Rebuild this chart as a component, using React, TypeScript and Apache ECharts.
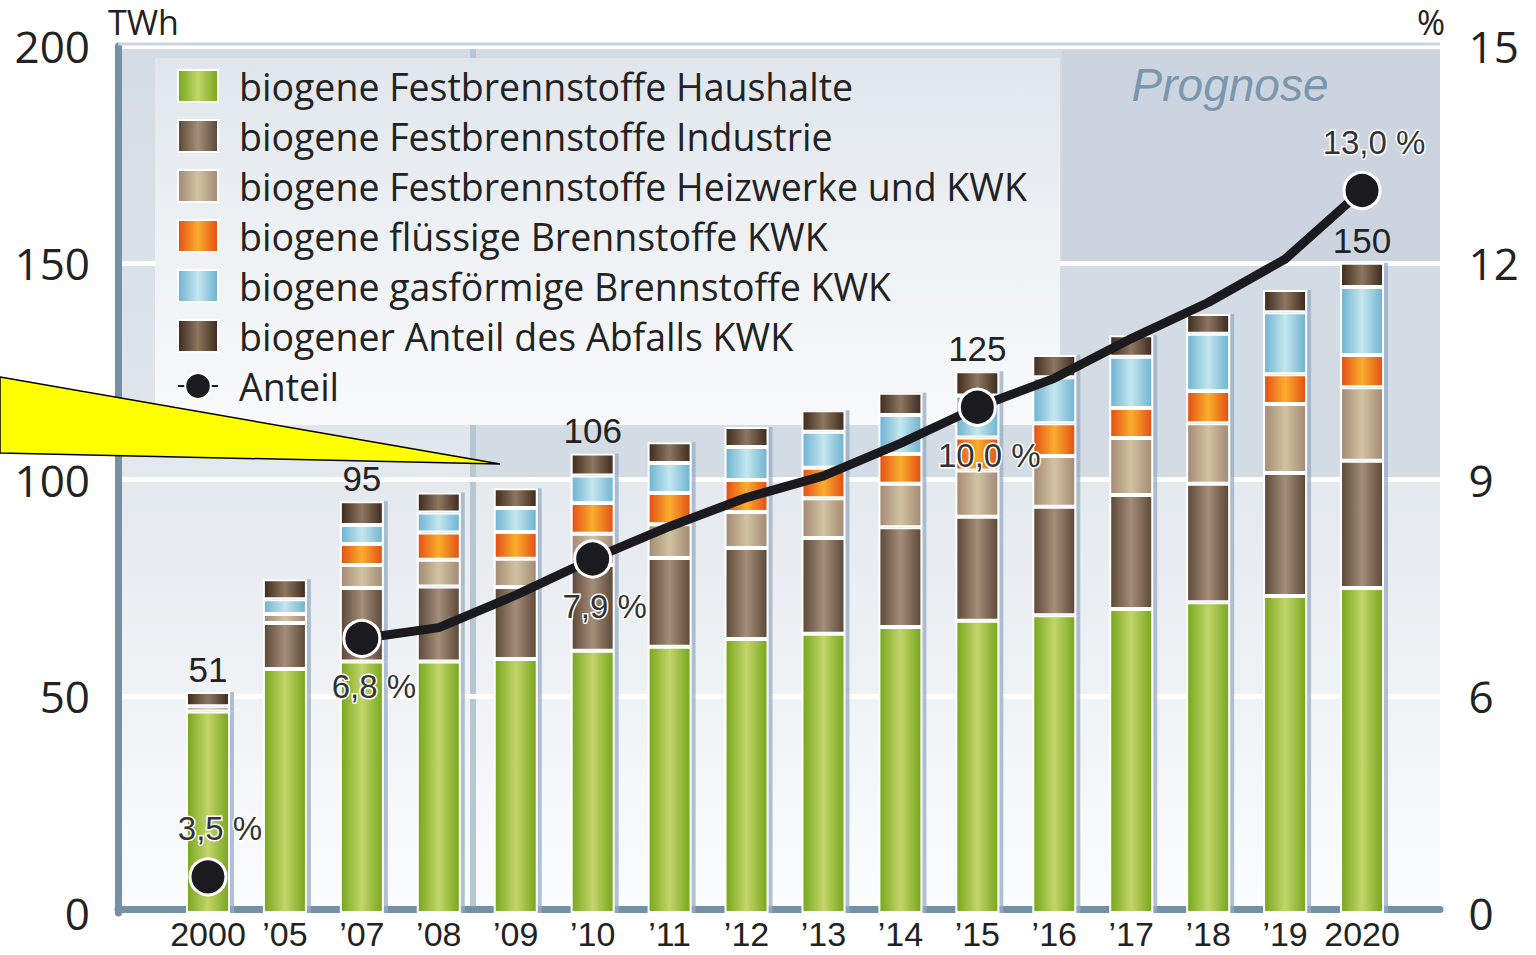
import React, { useEffect, useRef } from 'react';
import * as echarts from 'echarts';

// ---------- data ----------
const years = ['2000', '\u201905', '\u201907', '\u201908', '\u201909', '\u201910', '\u201911', '\u201912', '\u201913', '\u201914', '\u201915', '\u201916', '\u201917', '\u201918', '\u201919', '2020'];

const haushalte = [46.5, 56.3, 58.0, 58.0, 58.6, 60.5, 61.4, 63.2, 64.4, 66.0, 67.4, 68.7, 70.1, 71.7, 73.1, 75.0];
const industrie = [0, 10.6, 17.0, 17.3, 16.6, 19.8, 20.5, 21.0, 22.1, 23.0, 24.0, 25.0, 26.3, 27.3, 28.4, 29.3];
const heizwerke = [1.2, 2.1, 5.3, 6.2, 6.5, 7.2, 7.8, 8.3, 9.2, 10.0, 10.7, 11.7, 13.2, 14.0, 15.9, 17.0];
const fluessig = [0, 0, 4.8, 6.3, 6.2, 7.1, 7.2, 7.4, 7.0, 6.9, 7.6, 7.6, 6.9, 7.4, 6.9, 7.4];
const gasfoermig = [0, 3.4, 4.4, 4.6, 5.5, 6.3, 6.9, 7.6, 8.3, 9.0, 9.7, 10.6, 11.8, 13.2, 14.3, 15.7];
const abfall = [3.3, 4.6, 5.5, 4.6, 4.6, 5.1, 4.8, 4.6, 5.0, 5.1, 5.6, 5.1, 5.0, 4.6, 5.1, 5.6];

const totals = [51, null, 95, null, null, 106, null, null, null, null, 125, null, null, null, null, 150];

const anteil = [3.5, null, 6.8, 6.95, 7.4, 7.9, 8.35, 8.75, 9.05, 9.5, 10.0, 10.4, 10.95, 11.45, 12.05, 13.0];
const anteilMarked = [true, false, true, false, false, true, false, false, false, false, true, false, false, false, false, true];

const leftTicks = { min: 0, max: 200, interval: 50 };
const rightTicks = { min: 3, max: 15, interval: 3 }; // bottom of the broken axis is labelled "0"

const seriesNames = [
  'biogene Festbrennstoffe Haushalte',
  'biogene Festbrennstoffe Industrie',
  'biogene Festbrennstoffe Heizwerke und KWK',
  'biogene flüssige Brennstoffe KWK',
  'biogene gasförmige Brennstoffe KWK',
  'biogener Anteil des Abfalls KWK',
];
const lineName = 'Anteil';

// ---------- styles ----------
const NARROW = "'Liberation Sans', Arial, sans-serif";
const SANS = "'Open Sans', 'Noto Sans', 'DejaVu Sans', sans-serif";

const hGrad = (edge: string, mid: string) => ({
  type: 'linear', x: 0, y: 0, x2: 1, y2: 0,
  colorStops: [
    { offset: 0, color: edge },
    { offset: 0.5, color: mid },
    { offset: 1, color: edge },
  ],
});
const vGrad = (stops: [number, string][]) => ({
  type: 'linear', x: 0, y: 0, x2: 0, y2: 1,
  colorStops: stops.map(([offset, color]) => ({ offset, color })),
});

const barColors = [
  hGrad('#76a61c', '#c3d56a'),
  hGrad('#5b4737', '#a58e79'),
  hGrad('#a38973', '#d1c3a1'),
  hGrad('#e44d15', '#f9ae2d'),
  hGrad('#6db2d2', '#c4e7ed'),
  hGrad('#3d291c', '#8d7760'),
];

const fmtPct = (v: number) => v.toFixed(1).replace('.', ',') + ' %';

export default function App() {
  const ref = useRef<HTMLDivElement>(null);

  useEffect(() => {
    document.body.style.margin = '0';
    const chart = echarts.init(ref.current!, undefined, { renderer: 'svg' });

    const values = [haushalte, industrie, heizwerke, fluessig, gasfoermig, abfall];
    const bars = values.map((data, i) => ({
      type: 'bar',
      name: seriesNames[i],
      stack: 'total',
      xAxisIndex: 1,
      yAxisIndex: 1,
      barWidth: 44,
      data,
      z: 3,
      itemStyle: {
        color: barColors[i],
        borderColor: '#ffffff',
        borderWidth: 2,
        shadowColor: 'rgba(150,172,195,0.75)',
        shadowOffsetX: 4,
        shadowBlur: 0,
      },
      label: i === values.length - 1
        ? {
            show: true,
            position: 'top',
            distance: 5,
            fontFamily: NARROW,
            fontSize: 35,
            color: '#222',
            formatter: (p: any) => (totals[p.dataIndex] == null ? '' : String(totals[p.dataIndex])),
          }
        : { show: false },
    }));

    const last = anteil.length - 1;
    const line = {
      type: 'line',
      name: lineName,
      xAxisIndex: 1,
      yAxisIndex: 2,
      z: 6,
      connectNulls: false,
      symbol: 'circle',
      symbolSize: 36,
      lineStyle: { color: '#1b1a1e', width: 9 },
      itemStyle: { color: '#1b1a1e', borderColor: '#ffffff', borderWidth: 3 },
      data: anteil.map((v, i) => ({
        value: v,
        symbol: anteilMarked[i] ? 'circle' : 'none',
        label: {
          show: anteilMarked[i],
          position: i === 0 || i === last ? 'top' : 'bottom',
        },
      })),
      label: {
        formatter: (p: any) => fmtPct(p.value),
        fontFamily: NARROW,
        fontSize: 33,
        color: '#333',
        textBorderColor: '#ffffff',
        textBorderWidth: 3,
        distance: 12,
        offset: [12, 0],
      },
    };

    const option: any = {
      animation: false,
      grid: [
        { left: 118, right: 96, top: 46, bottom: 42 },
        { left: 169.5, right: 135.5, top: 46, bottom: 42 },
      ],
      legend: {
        orient: 'vertical',
        left: 172,
        top: 62,
        itemWidth: 40,
        itemHeight: 32,
        itemGap: 12,
        selectedMode: false,
        data: [...seriesNames.map((name) => ({ name, icon: 'rect' })), { name: lineName }],
        textStyle: { fontFamily: SANS, fontSize: 37.5, color: '#222', padding: [0, 0, 0, 16] },
      },
      xAxis: [
        {
          gridIndex: 0, type: 'value', min: 0, max: 1, offset: -4,
          axisLine: { show: true, onZero: false, lineStyle: { color: '#7490a6', width: 7 } },
          axisTick: { show: false }, axisLabel: { show: false }, splitLine: { show: false },
        },
        {
          gridIndex: 1, type: 'category', data: years,
          axisLine: { show: false }, axisTick: { show: false },
          axisLabel: { interval: 0, fontFamily: NARROW, fontSize: 34, color: '#222', margin: 4 },
        },
      ],
      yAxis: [
        {
          gridIndex: 0, type: 'value', ...leftTicks,
          axisLine: { show: true, lineStyle: { color: '#7490a6', width: 7 } },
          axisTick: { show: false },
          axisLabel: { fontFamily: SANS, fontSize: 44, color: '#222', margin: 28 },
          splitLine: { show: true, lineStyle: { color: '#ffffff', width: 5 } },
        },
        { gridIndex: 1, type: 'value', ...leftTicks, show: false },
        {
          gridIndex: 1, type: 'value', position: 'right', offset: 40, ...rightTicks,
          axisLine: { show: false }, axisTick: { show: false }, splitLine: { show: false },
          axisLabel: {
            fontFamily: SANS, fontSize: 44, color: '#222', margin: 28,
            formatter: (v: number) => (v === rightTicks.min ? '0' : String(v)),
          },
        },
      ],
      graphic: [
        {
          type: 'rect', z: -10, silent: true,
          shape: { x: 118, y: 46, width: 1322, height: 867 },
          style: { fill: vGrad([[0, '#d3dbe4'], [0.43, '#dfe5eb'], [0.5, '#e4e9ee'], [1, '#fbfcfd']]) },
        },
        {
          type: 'rect', z: -9, silent: true,
          shape: { x: 473, y: 46, width: 967, height: 434 },
          style: { fill: '#d3dbe4' },
        },
        {
          type: 'rect', z: -8, silent: true,
          shape: { x: 1062, y: 50, width: 378, height: 212 },
          style: { fill: '#ccd5df' },
        },
        {
          type: 'line', z: -7, silent: true,
          shape: { x1: 473, y1: 46, x2: 473, y2: 906 },
          style: { stroke: '#b7c6d3', lineWidth: 6 },
        },
        {
          type: 'line', z: 1, silent: true,
          shape: { x1: 118, y1: 44, x2: 1440, y2: 44 },
          style: { stroke: '#c8d4df', lineWidth: 3 },
        },
        {
          type: 'rect', z: 1, silent: true,
          shape: { x: 155, y: 58, width: 905, height: 367 },
          style: { fill: vGrad([[0, '#e0e6ec'], [0.5, '#eef1f4'], [1, '#f8f9fb']]) },
        },
        {
          type: 'text', z: 3, silent: true, x: 1230, y: 85,
          style: { text: 'Prognose', font: "italic 46px 'Liberation Sans', sans-serif", fill: '#7b97ad', textAlign: 'center', textVerticalAlign: 'middle' },
        },
        {
          type: 'text', z: 3, silent: true, x: 108, y: 22,
          style: { text: 'TWh', font: "34px 'Open Sans', sans-serif", fill: '#222', textAlign: 'left', textVerticalAlign: 'middle' },
        },
        {
          type: 'text', z: 3, silent: true, x: 1445, y: 22,
          style: { text: '%', font: "34px 'Open Sans', sans-serif", fill: '#222', textAlign: 'right', textVerticalAlign: 'middle' },
        },
        {
          type: 'polygon', z: 100, silent: true,
          shape: { points: [[0, 377], [500, 464], [0, 453]] },
          style: { fill: '#ffff00', stroke: '#000000', lineWidth: 1.5 },
        },
      ],
      series: [...bars, line],
    };

    chart.setOption(option);
    return () => chart.dispose();
  }, []);

  return <div ref={ref} style={{ width: 1536, height: 955 }} />;
}
